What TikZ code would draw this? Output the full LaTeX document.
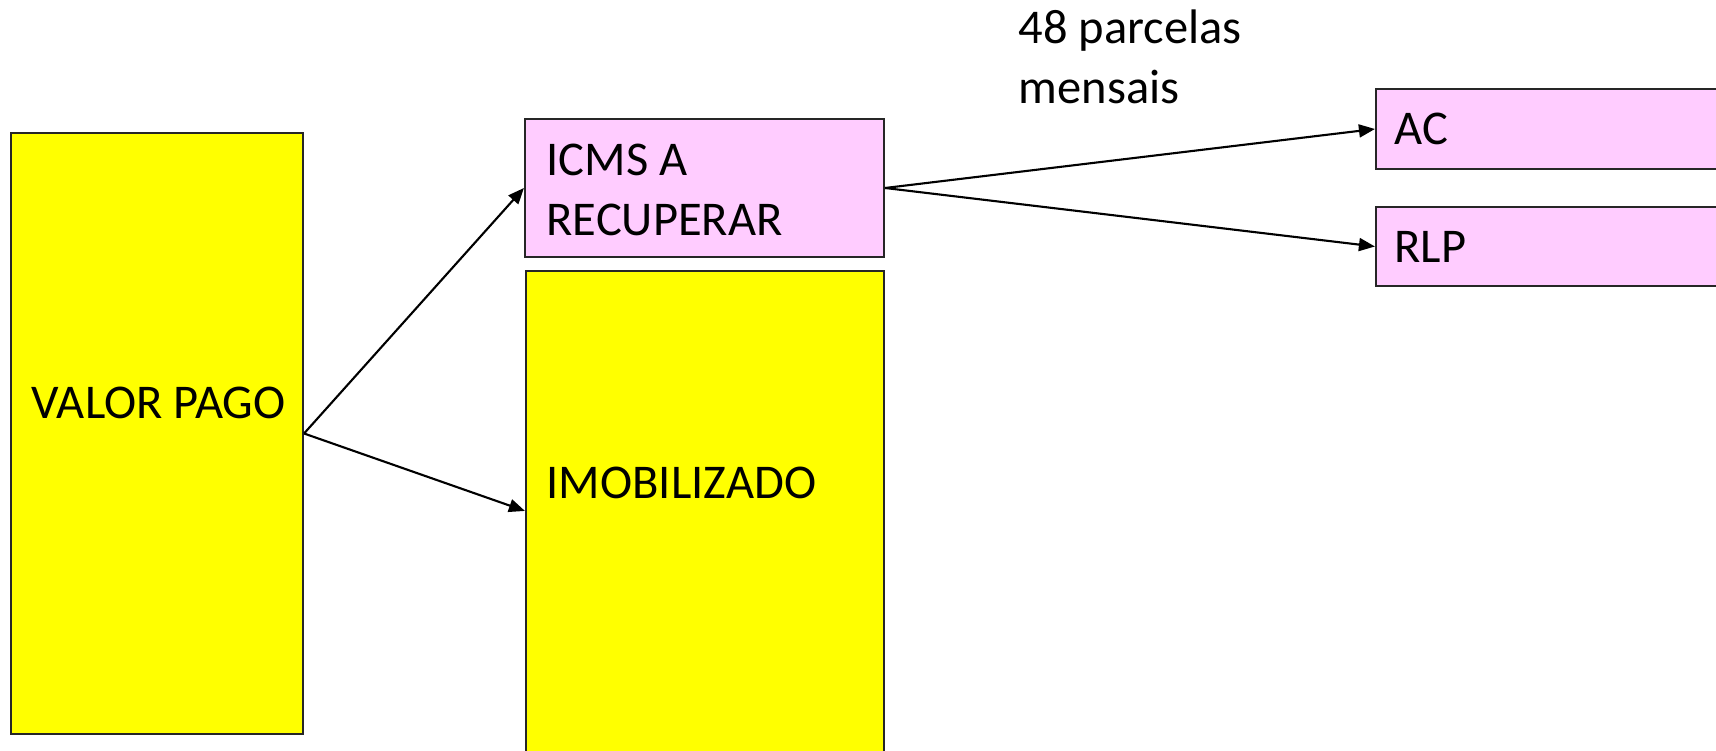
\documentclass[tikz,border=0pt]{standalone}
\usepackage{fontspec}
\setmainfont{Carlito}
\usepackage{tikz}
\usetikzlibrary{arrows.meta}
\definecolor{boxyellow}{HTML}{FFFF00}
\definecolor{boxpink}{HTML}{FFCCFF}
\begin{document}
\begin{tikzpicture}[
		yellowbox/.style={draw=black!85, line width=0.6pt, fill=boxyellow, inner sep=0pt},
		pinkbox/.style={draw=black!85, line width=0.6pt, fill=boxpink, inner sep=0pt},
		boxtext/.style={inner sep=0pt, align=left, font=\fontsize{13.8}{17.2}\selectfont},
		arr/.style={-{Triangle[length=0.16cm, width=0.13cm]}, line width=0.6pt}]
			\useasboundingbox (0,0) rectangle (17.16,-7.51);
			\clip (0,0) rectangle (17.16,-7.51);
			\fill[white] (0,0) rectangle (17.16,-7.51);
			\node[yellowbox, minimum width=2.92cm, minimum height=6.01cm] (valor) at (1.57,-4.335) {};
			\node[pinkbox, minimum width=3.59cm, minimum height=1.38cm] (icms) at (7.045,-1.88) {};
			\node[yellowbox, minimum width=3.58cm, minimum height=5.8cm] (imob) at (7.05,-5.61) {};
			\node[pinkbox, minimum width=4.24cm, minimum height=0.80cm] (ac) at (15.88,-1.29) {};
			\node[pinkbox, minimum width=4.24cm, minimum height=0.79cm] (rlp) at (15.88,-2.465) {};
			\node[boxtext, anchor=base west] (valortxt) at ([xshift=0.21cm, yshift=0.15cm]valor.west) {VALOR PAGO};
			\node[boxtext, anchor=west] (icmstxt) at ([xshift=0.22cm, yshift=-0.02cm]icms.west) {ICMS A\\RECUPERAR};
			\node[boxtext, anchor=base west] (imobtxt) at ([xshift=0.21cm, yshift=-2.29cm]imob.north west) {IMOBILIZADO};
			\node[boxtext, anchor=base west] (actxt) at ([xshift=0.19cm, yshift=-0.16cm]ac.west) {AC};
			\node[boxtext, anchor=base west] (rlptxt) at ([xshift=0.19cm, yshift=-0.16cm]rlp.west) {RLP};
			\node[boxtext, anchor=west] (parcelas) at (10.18,-0.57) {48 parcelas\\mensais};
			\draw[arr] (valor.east) -- (icms.west);
			\draw[arr] (valor.east) -- ([yshift=-2.41cm]imob.north west);
			\draw[arr] (icms.east) -- (ac.west);
			\draw[arr] (icms.east) -- (rlp.west);
		\end{tikzpicture}
\end{document}
